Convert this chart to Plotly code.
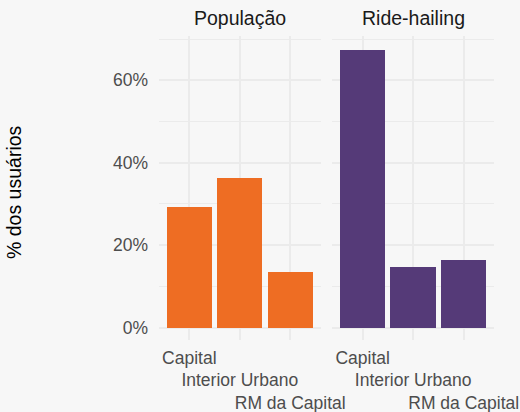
import plotly.graph_objects as go

categories = ["Capital", "Interior Urbano", "RM da Capital"]
tick_labels = ["Capital", "<br>Interior Urbano", "<br><br>RM da Capital"]
panels = ["População", "Ride-hailing"]
pop_values = [29.2, 36.4, 13.5]
ride_values = [67.3, 14.7, 16.4]
y_ticks = [0, 20, 40, 60]
y_tick_labels = ["0%", "20%", "40%", "60%"]

W, H = 520, 412
BG = "#F7F7F7"
GRID = "#EBEBEB"
FONT = "Liberation Sans, Arial, sans-serif"
ORANGE = "#EE6D23"
PURPLE = "#553A78"

def px(x):
    return x / W

def py(y):
    return (H - y) / H

fig = go.Figure()
fig.add_trace(go.Bar(x=categories, y=pop_values, marker_color=ORANGE, width=0.9,
                     marker_line_width=0, xaxis="x", yaxis="y", showlegend=False))
fig.add_trace(go.Bar(x=categories, y=ride_values, marker_color=PURPLE, width=0.9,
                     marker_line_width=0, xaxis="x2", yaxis="y2", showlegend=False))

yrange = [-3.03, 70.75]
ydom = [py(340), py(36)]

xcommon = dict(range=[-0.6, 2.6], tickvals=categories, ticktext=tick_labels,
               tickangle=0, automargin=False, ticklabelstandoff=5,
               showgrid=True, gridcolor=GRID, gridwidth=2, zeroline=False,
               showline=False, ticks="",
               tickfont=dict(family=FONT, size=17.5, color="#4D4D4D"),
               fixedrange=True)
ycommon = dict(range=yrange, domain=ydom, tickvals=y_ticks, ticktext=y_tick_labels,
               automargin=False,
               showgrid=True, gridcolor=GRID, gridwidth=2, zeroline=False,
               showline=False, ticks="",
               minor=dict(tickvals=[10, 30, 50, 70], showgrid=True,
                          gridcolor=GRID, gridwidth=1),
               tickfont=dict(family=FONT, size=17.5, color="#4D4D4D"))

fig.update_layout(
    width=W, height=H,
    margin=dict(l=0, r=0, t=0, b=0),
    paper_bgcolor=BG, plot_bgcolor=BG,
    bargap=0,
    xaxis=dict(domain=[px(159), px(320.5)], anchor="y", **xcommon),
    xaxis2=dict(domain=[px(332.3), px(494)], anchor="y2", **xcommon),
    yaxis=dict(anchor="x", ticklabelstandoff=10, **ycommon),
    yaxis2=dict(anchor="x2", showticklabels=False, **ycommon),
    font=dict(family=FONT),
)

# facet strip titles
centers = [(159 + 320.5) / 2, (332.3 + 494) / 2]
for name, cx in zip(panels, centers):
    fig.add_annotation(text=name, x=px(cx), y=py(18), xref="paper", yref="paper",
                       showarrow=False, xanchor="center", yanchor="middle",
                       font=dict(family=FONT, size=19.5, color="#1A1A1A"))

fig.add_annotation(text="% dos usuários", x=px(14), y=py(192), xref="paper", yref="paper",
                   showarrow=False, textangle=-90, xanchor="center", yanchor="middle",
                   font=dict(family=FONT, size=19.5, color="#000000"))

fig.write_html("out.html", config={"displayModeBar": False},
               post_script="document.body.style.margin='0';document.body.style.background='#F7F7F7';")
